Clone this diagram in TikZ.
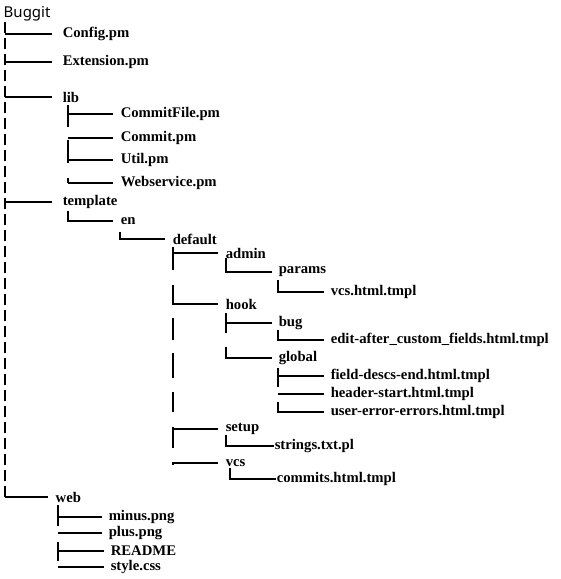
\documentclass[tikz,border=0pt]{standalone}
\usepackage{fontspec}
\setmainfont{Liberation Serif}
\newfontfamily\rootfont{Noto Sans}
\begin{document}
\begin{tikzpicture}[x=1pt, y=-1pt, line width=1.5pt,
    entry/.style={anchor=west, inner sep=0pt, font=\bfseries\fontsize{14.7}{16}\selectfont},
    rootentry/.style={anchor=west, inner sep=0pt, font=\rootfont\fontsize{15}{17}\selectfont},
    trunk/.style={dash pattern=on 11pt off 5pt}]
  \useasboundingbox (0,0) rectangle (561,579);
  % files and folders
  \node[rootentry] (buggit) at (3,14) {Buggit};
  \node[entry] (config) at (62,34) {Config.pm};
  \node[entry] (extension) at (62,62) {Extension.pm};
  \node[entry] (lib) at (62,97) {lib};
  \node[entry] (commitfile) at (120,114) {CommitFile.pm};
  \node[entry] (commit) at (120,138) {Commit.pm};
  \node[entry] (util) at (120,160) {Util.pm};
  \node[entry] (webservice) at (120,183) {Webservice.pm};
  \node[entry] (template) at (62,202) {template};
  \node[entry] (en) at (120,221) {en};
  \node[entry] (default) at (172,239) {default};
  \node[entry] (admin) at (225,253) {admin};
  \node[entry] (params) at (278,272) {params};
  \node[entry] (vcshtml) at (330,292) {vcs.html.tmpl};
  \node[entry] (hook) at (225,304) {hook};
  \node[entry] (bug) at (278,323) {bug};
  \node[entry] (editafter) at (330,340) {edit-after\_custom\_fields.html.tmpl};
  \node[entry] (global) at (278,358) {global};
  \node[entry] (fielddescs) at (330,376) {field-descs-end.html.tmpl};
  \node[entry] (headerstart) at (330,394) {header-start.html.tmpl};
  \node[entry] (usererror) at (330,412) {user-error-errors.html.tmpl};
  \node[entry] (setup) at (225,429) {setup};
  \node[entry] (strings) at (274,446) {strings.txt.pl};
  \node[entry] (vcs) at (225,463) {vcs};
  \node[entry] (commits) at (276,479) {commits.html.tmpl};
  \node[entry] (web) at (55,497) {web};
  \node[entry] (minus) at (108,517) {minus.png};
  \node[entry] (plus) at (108,533) {plus.png};
  \node[entry] (readme) at (110,551) {README};
  \node[entry] (style) at (110,567) {style.css};
  % Buggit
  \draw[trunk] (5,22) -- (5,497);
  \foreach \n in {config,extension,lib,template}
    \draw (5,0 |- \n.west) -- ([xshift=-10pt]\n.west);
  \draw (5,0 |- web.west) -- ([xshift=-7pt]web.west);
  % lib
  \draw (68,105) -- (68,127);
  \draw (68,140) -- (68,163);
  \draw (68,178) -- (68,183);
  \foreach \n in {commitfile,commit,util,webservice}
    \draw (68,0 |- \n.west) -- ([xshift=-7pt]\n.west);
  % template
  \draw (68,211) |- ([xshift=-7pt]en.west);
  \draw (120,232) |- ([xshift=-7pt]default.west);
  \draw (173,247) -- (173,270);
  \draw (173,285) -- (173,305);
  \draw (173,318) -- (173,340);
  \draw (173,353) -- (173,378);
  \draw (173,392) -- (173,412);
  \draw (173,427) -- (173,448);
  \draw (173,462) -- (173,465);
  \foreach \n in {admin,hook,setup,vcs}
    \draw (173,0 |- \n.west) -- ([xshift=-7pt]\n.west);
  \draw (226,258) |- ([xshift=-6pt]params.west);
  \draw (278,280) |- ([xshift=-6pt]vcshtml.west);
  \draw (226,313) -- (226,333);
  \draw (226,0 |- bug.west) -- ([xshift=-6pt]bug.west);
  \draw (226,347) |- ([xshift=-6pt]global.west);
  \draw (278,330) |- ([xshift=-6pt]editafter.west);
  \draw (278,368) -- (278,387);
  \draw (278,0 |- fielddescs.west) -- ([xshift=-6pt]fielddescs.west);
  \draw (278,0 |- headerstart.west) -- ([xshift=-6pt]headerstart.west);
  \draw (278,402) |- ([xshift=-6pt]usererror.west);
  \draw (226,435) |- (strings.west);
  \draw (230,468) |- (commits.west);
  % web
  \draw (58,505) -- (58,526);
  \draw (58,542) -- (58,561);
  \foreach \n in {minus,plus,readme,style}
    \draw (58,0 |- \n.west) -- ([xshift=-6pt]\n.west);
\end{tikzpicture}
\end{document}
